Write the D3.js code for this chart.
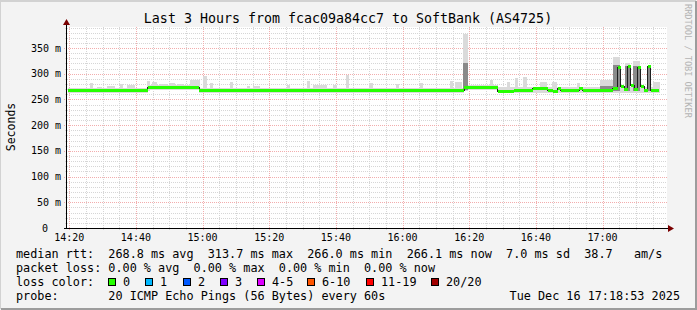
<!DOCTYPE html>
<html><head><meta charset="utf-8">
<script src="https://cdn.jsdelivr.net/npm/d3@7"></script>
<style>
body{margin:0;background:#f3f3f3}
text{font-family:"DejaVu Sans Mono",monospace;fill:#000}
</style></head><body><div id="chart"></div>
<script>
// time values are minutes after 14:00, rtt values in ms
const title='Last 3 Hours from fcac09a84cc7 to SoftBank (AS4725)';
const timeSpan=[19.33,199.33];
const yMax=391;
const xTicks=[20,40,60,80,100,120,140,160,180];
const yTicks=[0,50,100,150,200,250,300,350];

const medianRuns=[
 [19.5,43.5,267],[43.5,59,272.5],[59,138.5,267],[138.5,148.5,272.5],[148.5,153.5,266],
 [153.5,159,267],[159,163.5,272],[163.5,165,267],[165,166.5,265],[166.5,167.5,272],
 [167.5,173,267],[173,174,271.5],[174,183,267],[183,184.5,271],[184.5,185.5,313],
 [185.5,186.5,276],[186.5,187.5,270],[187.5,188.5,314],[188.5,189.5,277],[189.5,190.5,269],
 [190.5,191.5,313],[191.5,192.5,275],[192.5,193.5,268],[193.5,194.5,314],[194.5,197,268]
];
// light smoke: [t0,t1,lo,hi]
const smokeOuter=[
 [19.5,43.5,263,272],[43.5,59,268,278],[59,138.5,263,273],[138.5,148.5,268,278],[148.5,197,262,275],
 [26.2,27.1,263,282],[28.3,29.8,263,275],[31.3,33.7,263,276],[35.2,36.1,263,280],[37.3,39.7,263,278],
 [43.3,44.2,266,286],[44.8,46.3,268,284],[47.2,49.3,268,281],[50.2,51.7,268,282],[52.6,54.1,268,280],
 [56.2,59.2,268,288],[60.1,61.3,263,296],[62.2,63.1,263,283],[68.2,69.1,263,284],[73.3,74.2,263,276],
 [75.1,77.2,263,277],[85.3,86.2,263,278],[91.3,92.2,263,285],[93.1,97.3,263,278],[99.1,100.3,263,278],
 [103,104,263,297],[110,111,263,282],[118,119,263,280],
 [125.2,126.1,263,283],[134.2,135.1,263,285],[135.7,137.8,263,284],[138.1,139.6,266,378],
 [146.2,147.1,268,288],[151.3,152.2,262,284],[153.7,154.6,262,291],[156.1,157.3,262,293],
 [161.2,163.3,262,284],[164.8,166.3,262,284],[172.3,173.2,262,282],[179.2,183.1,262,288],
 [183.1,185.2,262,333],[186.7,188.2,262,321],[189.1,191.2,262,325],[193.3,194.2,262,316],[195.1,197.2,262,284]
];
// darker smoke near the median: [t0,t1,lo,hi]
const smokeInner=[
 [138.1,139.6,268,321],[179.2,183.1,265,276],[183.1,185.2,266,318],[186.7,188.2,266,315],
 [189.1,191.2,266,316],[193.3,194.2,266,314]
];

const lossLabels=['0','1','2','3','4-5','6-10','11-19','20/20'];
const lossColors=['#26ff00','#00b8ff','#0059ff','#7e00ff','#dd00ff','#ff5500','#ff0000','#a10000'];
const statsRows=[
 'median rtt:  268.8 ms avg  313.7 ms max  266.0 ms min  266.1 ms now  7.0 ms sd  38.7   am/s',
 'packet loss: 0.00 % avg  0.00 % max  0.00 % min  0.00 % now'
];
const probeText='probe:       20 ICMP Echo Pings (56 Bytes) every 60s';
const stamp='Tue Dec 16 17:18:53 2025';

const Wd=697,Ht=310,L=67,R=667,T=27,B=228;
const svg=d3.select('#chart').append('svg').attr('width',Wd).attr('height',Ht)
  .attr('shape-rendering','crispEdges');

svg.append('rect').attr('width',Wd).attr('height',Ht).attr('fill','#f3f3f3');
svg.append('path').attr('d',`M0,${Ht-1}V1H${Wd-1}`).attr('stroke','#d2d2d2').attr('stroke-width',2).attr('fill','none');
svg.append('path').attr('d',`M1,${Ht-1}H${Wd-1}V1`).attr('stroke','#9c9c9c').attr('stroke-width',2).attr('fill','none');

const x=d3.scaleLinear().domain(timeSpan).range([L,R]),
      y=d3.scaleLinear().domain([0,yMax]).range([B,T]);

svg.append('rect').attr('x',L).attr('y',T).attr('width',R-L).attr('height',B-T).attr('fill','#fff');

// grid
const grid=svg.append('g').attr('fill','none').attr('stroke-dasharray','1,1');
const minorX=d3.range(20,200,5).filter(m=>m%20),
      minorY=d3.range(10,yMax,10).filter(v=>v%50);
grid.selectAll('.mx').data(minorX).enter().append('line')
  .attr('x1',d=>Math.round(x(d))+.5).attr('x2',d=>Math.round(x(d))+.5).attr('y1',T).attr('y2',B+2)
  .attr('stroke','#d6d6d6');
grid.selectAll('.my').data(minorY).enter().append('line')
  .attr('y1',d=>Math.round(y(d))+.5).attr('y2',d=>Math.round(y(d))+.5).attr('x1',L-2).attr('x2',R)
  .attr('stroke','#d6d6d6');
grid.selectAll('.Mx').data(xTicks).enter().append('line')
  .attr('x1',d=>Math.round(x(d))+.5).attr('x2',d=>Math.round(x(d))+.5).attr('y1',T).attr('y2',B+3)
  .attr('stroke','#f2adad');
grid.selectAll('.My').data(yTicks.slice(1)).enter().append('line')
  .attr('y1',d=>Math.round(y(d))+.5).attr('y2',d=>Math.round(y(d))+.5).attr('x1',L-3).attr('x2',R)
  .attr('stroke','#f2adad');

// smoke
const smoke=svg.append('g');
smoke.selectAll('.so').data(smokeOuter).enter().append('rect')
  .attr('x',d=>x(d[0])).attr('width',d=>x(d[1])-x(d[0]))
  .attr('y',d=>y(d[3])).attr('height',d=>y(d[2])-y(d[3])).attr('fill','#dadada');
smoke.selectAll('.si').data(smokeInner).enter().append('rect')
  .attr('x',d=>x(d[0])).attr('width',d=>x(d[1])-x(d[0]))
  .attr('y',d=>y(d[3])).attr('height',d=>y(d[2])-y(d[3])).attr('fill','#8a8a8a');

// median: dark step line plus green loss-colour band
const pts=medianRuns.map(d=>[d[0],d[2]]);
pts.push([medianRuns[medianRuns.length-1][1],medianRuns[medianRuns.length-1][2]]);
svg.append('path').datum(pts)
  .attr('d',d3.line().x(d=>x(d[0])).y(d=>y(d[1])).curve(d3.curveStepAfter))
  .attr('fill','none').attr('stroke','#202020').attr('stroke-width',1);
svg.append('g').selectAll('rect').data(medianRuns).enter().append('rect')
  .attr('x',d=>x(d[0])).attr('width',d=>x(d[1])-x(d[0]))
  .attr('y',d=>y(d[2])-1.5).attr('height',3).attr('fill',lossColors[0]);

// axes
svg.append('line').attr('x1',L-.5).attr('x2',L-.5).attr('y1',T-4).attr('y2',B+1).attr('stroke','#000');
svg.append('line').attr('x1',L-3).attr('x2',R+3).attr('y1',B+.5).attr('y2',B+.5).attr('stroke','#000');
svg.append('path').attr('d',`M${L-4},${T-2}L${L-.5},${T-8}L${L+3},${T-2}Z`).attr('fill','#7a0000').attr('shape-rendering','auto');
svg.append('path').attr('d',`M${R+1},${B-3}L${R+7},${B+.5}L${R+1},${B+4}Z`).attr('fill','#7a0000').attr('shape-rendering','auto');

const fmt=m=>`${14+Math.floor(m/60)}:${String(m%60).padStart(2,'0')}`;
svg.append('g').selectAll('text').data(xTicks).enter().append('text')
  .attr('x',d=>x(d)).attr('y',B+13).attr('text-anchor','middle').attr('font-size',10).text(fmt);
svg.append('g').selectAll('text').data(yTicks).enter().append('text')
  .attr('x',d=>d?61:48).attr('y',d=>y(d)+3.5).attr('text-anchor','end').attr('font-size',10)
  .text(d=>d?`${d} m`:'0');

svg.append('text').attr('transform','translate(15,127) rotate(-90)').attr('text-anchor','middle')
  .attr('font-size',11.5).text('Seconds');
svg.append('text').attr('x',348).attr('y',23).attr('text-anchor','middle').attr('font-size',13.3).text(title);
svg.append('text').attr('transform','translate(685,4) rotate(90)').attr('font-size',8.6)
  .style('fill','#b4b4b4').text('RRDTOOL / TOBI OETIKER');

// legend
const leg=svg.append('g').attr('font-size',11.8).attr('xml:space','preserve');
leg.selectAll('.sr').data(statsRows).enter().append('text')
  .attr('x',16).attr('y',(d,i)=>258+i*14).style('white-space','pre').text(d=>d);
leg.append('text').attr('x',16).attr('y',286).text('loss color:');
const boxX=[108,145,183,220,257,307,366,431];
const lc=leg.selectAll('.lc').data(lossLabels).enter().append('g')
  .attr('transform',(d,i)=>`translate(${boxX[i]},278)`);
lc.append('rect').attr('x',.5).attr('y',.5).attr('width',7).attr('height',7)
  .attr('fill',(d,i)=>lossColors[i]).attr('stroke','#000');
lc.append('text').attr('x',15).attr('y',8).text(d=>d);
leg.append('text').attr('x',16).attr('y',300).style('white-space','pre').text(probeText);
leg.append('text').attr('x',680).attr('y',300).attr('text-anchor','end').text(stamp);
</script></body></html>
